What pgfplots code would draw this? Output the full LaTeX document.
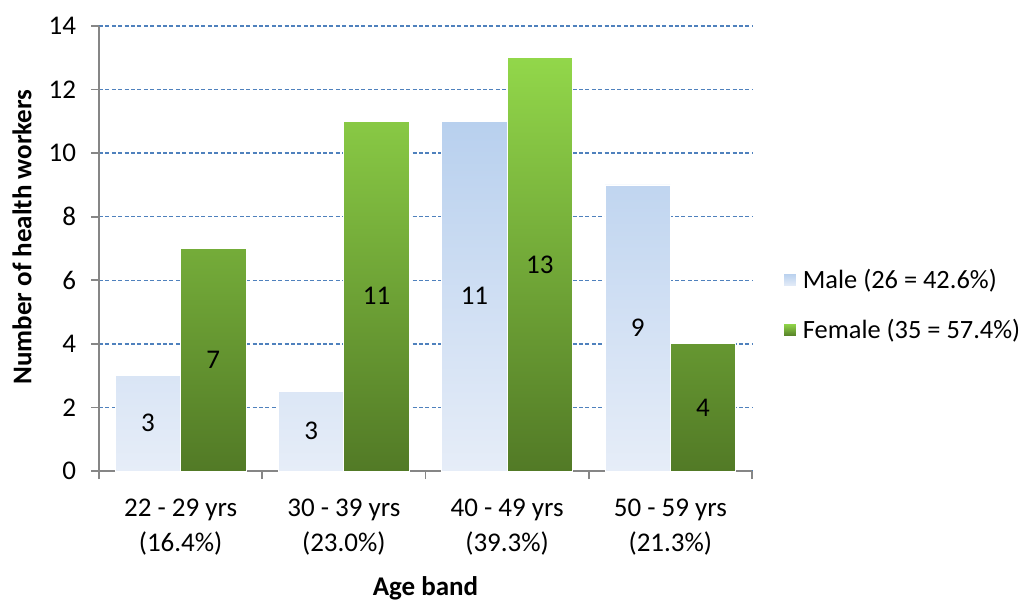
\documentclass[border=0pt]{standalone}
\usepackage{pgfplots}
\pgfplotsset{compat=1.18}
\usepackage{fontspec}
\setmainfont{Carlito}
\definecolor{maletop}{HTML}{B8D0EE}
\definecolor{malebot}{HTML}{E6EDF8}
\definecolor{femtop}{HTML}{92D74A}
\definecolor{fembot}{HTML}{527A26}
\definecolor{gridblue}{HTML}{4F81BD}
\definecolor{axgray}{HTML}{868686}
\begin{document}
\begin{tikzpicture}
\useasboundingbox (0,0) rectangle (511.5pt,300pt);
\begin{axis}[
  at={(49.5pt,64.5pt)}, anchor=south west,
  scale only axis, width=326.5pt, height=222.5pt,
  xmin=-0.5, xmax=3.5, ymin=0, ymax=14,
  axis x line*=bottom, axis y line*=left,
  axis line style={-, axgray, line width=0.8pt},
  tick align=outside,
  xtick={0,1,2,3},
  xticklabels={{22 - 29 yrs\\(16.4\%)},{30 - 39 yrs\\(23.0\%)},{40 - 49 yrs\\(39.3\%)},{50 - 59 yrs\\(21.3\%)}},
  major x tick style={draw=none},
  minor xtick={-0.5,0.5,1.5,2.5,3.5},
  minor x tick style={axgray, line width=0.8pt},
  minor tick length=4pt,
  ytick={0,2,...,14},
  major tick length=4pt,
  y tick style={axgray, line width=0.8pt},
  ymajorgrids,
  major grid style={color=gridblue, dash pattern=on 2pt off 1.2pt, line width=0.7pt},
  /pgf/number format/assume math mode=true,
  tick label style={font=\fontsize{13.5}{17.5}\selectfont},
  xticklabel style={align=center, yshift=-6.5pt},
  yticklabel style={xshift=-4pt},
  xlabel={Age band},
  ylabel={Number of health workers},
  label style={font=\fontsize{13.5}{16}\selectfont\bfseries},
  xlabel style={at={(axis description cs:0.5,-0.263)}, anchor=center},
  ylabel style={at={(axis description cs:-0.118,0.526)}, anchor=center},
  legend style={at={(axis description cs:1.047,0.373)}, anchor=west, draw=none, fill=none,
    font=\fontsize{13.2}{16}\selectfont, row sep=10pt, inner xsep=0pt},
  legend cell align=left,
  nodes near coords style={font=\fontsize{13.5}{16}\selectfont},
]
\addplot[ybar, bar width=0.4, bar shift=-0.2, draw=white, line width=0.4pt,
  top color=maletop, bottom color=malebot,
  legend image code/.code={\path[top color=maletop, bottom color=malebot] (0pt,-3.25pt) rectangle (6.5pt,3.25pt);}]
  coordinates {(0,3) (1,2.5) (2,11) (3,9)};
\addlegendentry{\hspace{1pt}Male (26 = 42.6\%)}
\addplot[ybar, bar width=0.4, bar shift=0.2, draw=white, line width=0.4pt,
  top color=femtop, bottom color=fembot,
  legend image code/.code={\path[top color=femtop, bottom color=fembot] (0pt,-3.25pt) rectangle (6.5pt,3.25pt);}]
  coordinates {(0,7) (1,11) (2,13) (3,4)};
\addlegendentry{\hspace{1pt}Female (35 = 57.4\%)}
\addplot[draw=none, forget plot, nodes near coords, point meta=explicit symbolic, nodes near coords align=center]
  coordinates {(-0.2,1.5) [3] (0.8,1.25) [3] (1.8,5.5) [11] (2.8,4.5) [9]};
\addplot[draw=none, forget plot, nodes near coords, point meta=explicit symbolic, nodes near coords align=center]
  coordinates {(0.2,3.5) [7] (1.2,5.5) [11] (2.2,6.5) [13] (3.2,2) [4]};
\end{axis}
\end{tikzpicture}
\end{document}
